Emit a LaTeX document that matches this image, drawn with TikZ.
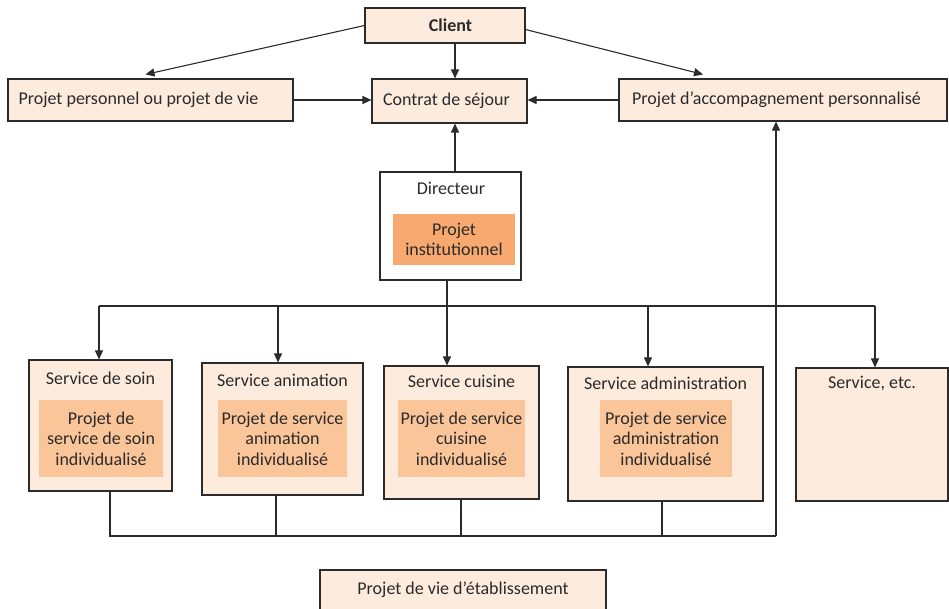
\documentclass[tikz,border=0pt]{standalone}
\usepackage{fontspec}
\setmainfont{Carlito}
\usetikzlibrary{arrows.meta}
\definecolor{peach}{HTML}{FDEBDD}
\definecolor{dirorange}{HTML}{F7A96F}
\definecolor{svcorange}{HTML}{FBC59A}
\definecolor{linec}{HTML}{2B2B2B}
\newcommand{\fs}{\fontsize{18}{20.5}\selectfont}
\begin{document}
\begin{tikzpicture}[x=1pt,y=-1pt,
  box/.style={draw=linec, fill=peach, line width=1.1pt, inner sep=0pt, align=center, font=\fs, text=linec},
  innerbox/.style={fill=svcorange, inner sep=0pt, align=center, font=\fs, text=linec},
  title/.style={inner sep=0pt, font=\fs, text=linec},
  arr/.style={draw=linec, line width=1.1pt, -{Triangle[length=9pt,width=8pt]}},
  ln/.style={draw=linec, line width=1.1pt}]
\useasboundingbox (0,0) rectangle (949,609);
% top row
\node[box, minimum width=160pt, minimum height=35pt] (client) at (445,25.5) {\hspace*{11pt}\textbf{Client}};
\node[box, minimum width=285pt, minimum height=42pt] (pp) at (150.5,100) {\hspace*{-24pt}Projet personnel ou projet de vie};
\node[box, minimum width=155pt, minimum height=44pt] (contrat) at (449.5,101) {\hspace*{-6pt}Contrat de séjour};
\node[box, minimum width=328pt, minimum height=42pt] (pap) at (783,100) {\hspace*{-13pt}Projet d’accompagnement personnalisé};
% directeur
\node[box, fill=white, minimum width=141pt, minimum height=108pt] (dir) at (450.5,226) {};
\node[title] (dirt) at (451,188) {Directeur};
\node[innerbox, fill=dirorange, minimum width=122pt, minimum height=51pt] (diri) at (454,239.5) {Projet\\institutionnel};
% services
\node[box, minimum width=143pt, minimum height=131pt] (soin) at (100.5,425.5) {};
\node[title] (soint) at (100.5,378) {Service de soin};
\node[innerbox, minimum width=124pt, minimum height=77pt] (soini) at (101,438.5) {Projet de\\service de soin\\individualisé};
\node[box, minimum width=161pt, minimum height=132pt] (anim) at (282.5,429) {};
\node[title] (animt) at (282.5,380) {Service animation};
\node[innerbox, minimum width=129pt, minimum height=77pt] (animi) at (282.5,438.5) {Projet de service\\animation\\individualisé};
\node[box, minimum width=155pt, minimum height=133pt] (cuis) at (461.5,432.5) {};
\node[title] (cuist) at (461.5,381) {Service cuisine};
\node[innerbox, minimum width=127pt, minimum height=77pt] (cuisi) at (461.5,438.5) {Projet de service\\cuisine\\individualisé};
\node[box, minimum width=195pt, minimum height=134pt] (adm) at (665.5,434) {};
\node[title] (admt) at (665.5,383) {Service administration};
\node[innerbox, minimum width=132pt, minimum height=77pt] (admi) at (666,438.5) {Projet de service\\administration\\individualisé};
\node[box, minimum width=152pt, minimum height=133pt] (etc) at (872,434.5) {};
\node[title] (etct) at (872,383) {Service, etc.};
% bottom
\node[box, minimum width=286pt, minimum height=40pt] (vie) at (463,590) {Projet de vie d’établissement};
% coordinates
\coordinate (cx) at (455,0);
\coordinate (b1) at (99,306);
\coordinate (b2) at (278,306);
\coordinate (b3) at (447,306);
\coordinate (b4) at (648,306);
\coordinate (b5) at (875,306);
\coordinate (l1) at (110,536);
\coordinate (l2) at (276,536);
\coordinate (l3) at (461,536);
\coordinate (l4) at (662,536);
\coordinate (lc) at (776,536);
% top arrows
\draw[arr] (client.west) -- ([xshift=-5pt,yshift=4pt]pp.north);
\draw[arr] ([yshift=-4pt]client.east) -- ([xshift=-80pt,yshift=4pt]pap.north);
\draw[arr] (client.south -| cx) -- (contrat.north -| cx);
\draw[arr] (pp.east) -- (pp.east -| contrat.west);
\draw[arr] (pap.west) -- (pap.west -| contrat.east);
\draw[arr] (dir.north -| cx) -- (contrat.south -| cx);
% bus
\draw[ln] (dir.south -| b3) -- (b3);
\draw[ln] (b1) -- (b5);
\draw[arr] (b1) -- (b1 |- soin.north);
\draw[arr] (b2) -- (b2 |- anim.north);
\draw[arr] (b3) -- (b3 |- cuis.north);
\draw[arr] (b4) -- (b4 |- adm.north);
\draw[arr] (b5) -- (b5 |- etc.north);
% bottom loop
\draw[ln] (l1 |- soin.south) -- (l1) -- (lc);
\draw[ln] (l2 |- anim.south) -- (l2);
\draw[ln] (l3 |- cuis.south) -- (l3);
\draw[ln] (l4 |- adm.south) -- (l4);
\draw[arr] (lc) -- (lc |- pap.south);
\end{tikzpicture}
\end{document}
